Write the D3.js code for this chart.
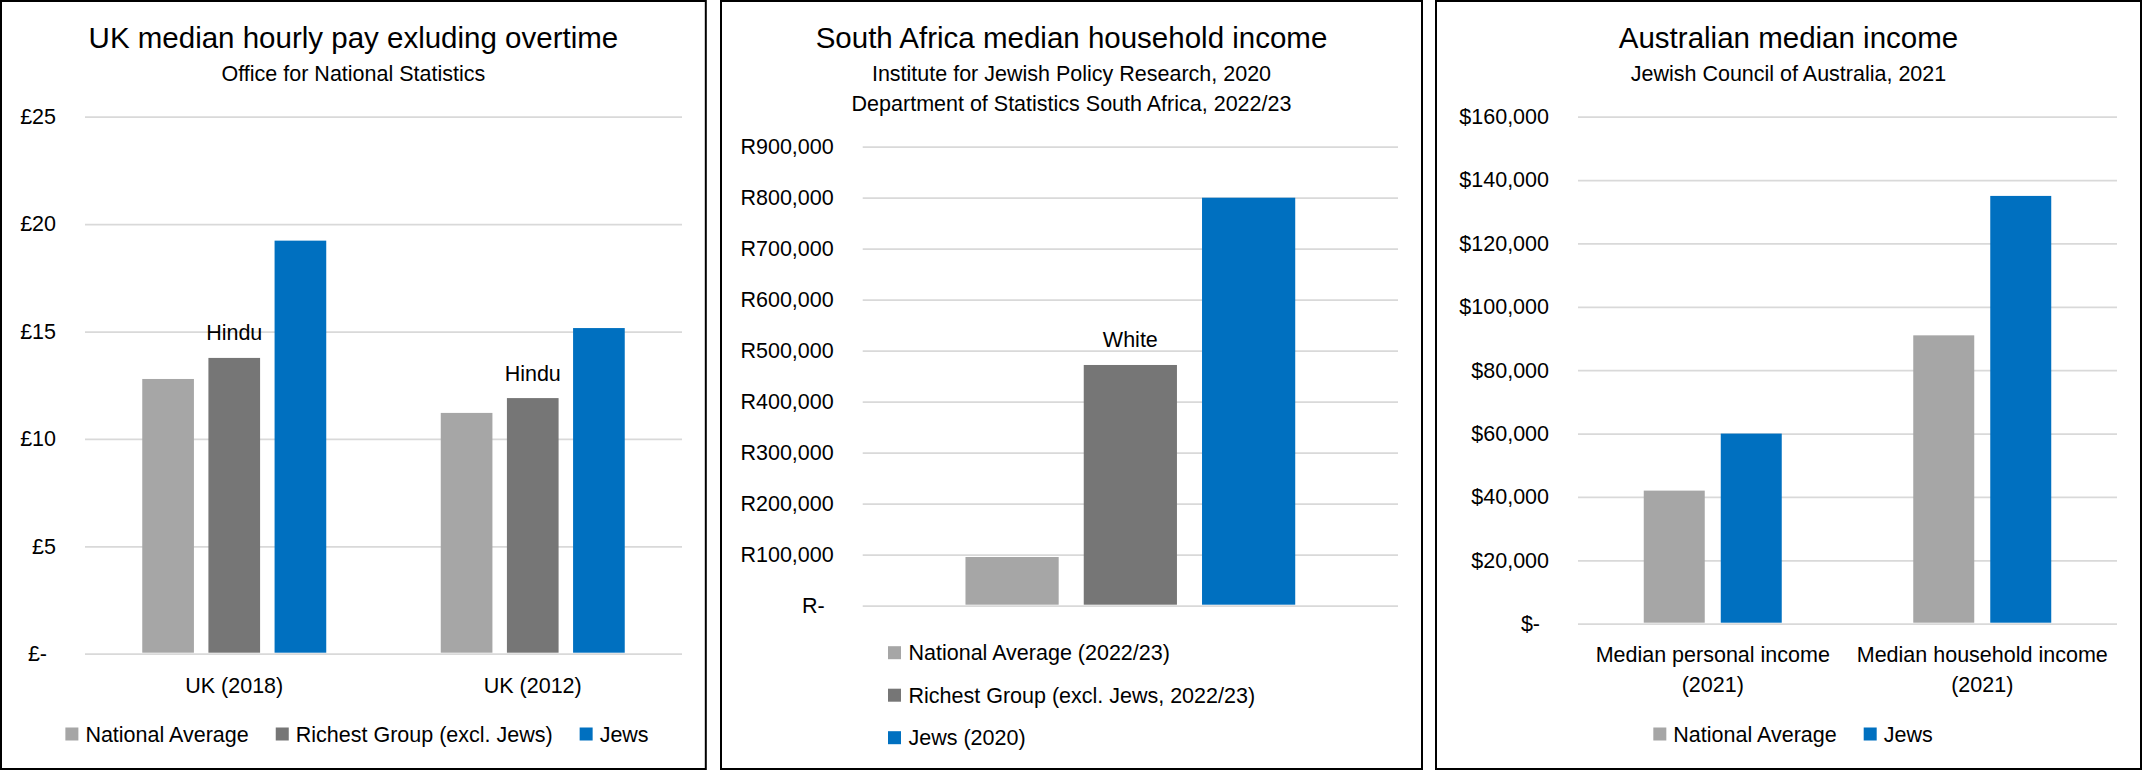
<!DOCTYPE html>
<html>
<head>
<meta charset="utf-8">
<script src="https://cdn.jsdelivr.net/npm/d3@7"></script>
<style>
body { margin: 0; background: #fff; }
svg { display: block; }
text { font-family: "Liberation Sans", Arial, sans-serif; fill: #000; }
</style>
</head>
<body>
<svg id="chart" width="2142" height="770"></svg>
<script>
// UK panel
var ukCategories = ["UK (2018)", "UK (2012)"];
var ukSeries = ["National Average", "Richest Group (excl. Jews)", "Jews"];
var ukNational = [12.79, 11.21];
var ukRichest = [13.77, 11.90];
var ukJews = [19.23, 15.16];
var ukRichestLabels = ["Hindu", "Hindu"];

// South Africa panel (single unlabeled category)
var saCategories = [""];
var saSeries = ["National Average (2022/23)", "Richest Group (excl. Jews, 2022/23)", "Jews (2020)"];
var saNational = [95500];
var saRichest = [472000];
var saJews = [800000];
var saRichestLabels = ["White"];

// Australia panel
var auCategories = ["Median personal income (2021)", "Median household income (2021)"];
var auSeries = ["National Average", "Jews"];
var auNational = [42000, 91000];
var auJews = [60000, 135000];

var LIGHT = "#a6a6a6", DARK = "#767676", BLUE = "#0070c0";
var GRID = "#d9d9d9";
var FONT = "21.5px";

function main() {
    var svg = d3.select("#chart");

    drawPanel(svg, {
        box: [1, 705.8],
        title: "UK median hourly pay exluding overtime",
        subtitles: ["Office for National Statistics"],
        plot: { left: 85, right: 682, top: 116.7, bottom: 653.7 },
        yMax: 25, yTicks: 5,
        format: function(d) { return d === 0 ? "£-" : "£" + d; },
        categories: ukCategories,
        series: ukSeries,
        values: [ukNational, ukRichest, ukJews],
        colors: [LIGHT, DARK, BLUE],
        labels: [null, ukRichestLabels, null],
        groupPad: 0.3836, barPad: 0.219,
        catPad: 24,
        legend: { type: "row", center: 357, y: 734 }
    });

    var money = d3.format(",");
    drawPanel(svg, {
        box: [721, 1422],
        title: "South Africa median household income",
        subtitles: ["Institute for Jewish Policy Research, 2020",
                    "Department of Statistics South Africa, 2022/23"],
        plot: { left: 862.7, right: 1398, top: 146.7, bottom: 605.7 },
        yMax: 900000, yTicks: 9,
        format: function(d) { return d === 0 ? "R-" : "R" + money(d); },
        categories: saCategories,
        series: saSeries,
        values: [saNational, saRichest, saJews],
        colors: [LIGHT, DARK, BLUE],
        labels: [null, saRichestLabels, null],
        groupPad: 0.384, barPad: 0.212,
        catPad: null,
        legend: { type: "column", x: 888, y: 652.7, step: 42.5 }
    });

    drawPanel(svg, {
        box: [1436, 2141],
        title: "Australian median income",
        subtitles: ["Jewish Council of Australia, 2021"],
        plot: { left: 1578, right: 2117, top: 116.7, bottom: 623.7 },
        yMax: 160000, yTicks: 8,
        format: function(d) { return d === 0 ? "$-" : "$" + money(d); },
        categories: auCategories,
        series: auSeries,
        values: [auNational, auJews],
        colors: [LIGHT, BLUE],
        labels: [null, null],
        groupPad: 0.488, barPad: 0.208,
        catPad: 22.7,
        legend: { type: "row", center: 1793, y: 734 }
    });
}

function drawPanel(svg, cfg) {
    var p = svg.append("g").attr("class", "panel");
    var plot = cfg.plot;

    p.append("rect")
        .attr("x", cfg.box[0])
        .attr("y", 1)
        .attr("width", cfg.box[1] - cfg.box[0])
        .attr("height", 768)
        .attr("fill", "none")
        .attr("stroke", "#000")
        .attr("stroke-width", 2);

    var cx = (cfg.box[0] + cfg.box[1]) / 2;
    p.append("text")
        .attr("x", cx)
        .attr("y", 47.5)
        .attr("text-anchor", "middle")
        .style("font-size", "29.5px")
        .text(cfg.title);
    cfg.subtitles.forEach(function(s, i) {
        p.append("text")
            .attr("x", cx)
            .attr("y", 80.5 + 30.5 * i)
            .attr("text-anchor", "middle")
            .style("font-size", FONT)
            .text(s);
    });

    var y = d3.scaleLinear()
        .domain([0, cfg.yMax])
        .range([plot.bottom, plot.top]);
    var x0 = d3.scaleBand()
        .domain(cfg.categories)
        .range([plot.left, plot.right])
        .paddingInner(cfg.groupPad)
        .paddingOuter(cfg.groupPad / 2);
    var x1 = d3.scaleBand()
        .domain(cfg.series)
        .range([0, x0.bandwidth()])
        .paddingInner(cfg.barPad);

    // gridlines + value labels
    var yAxis = p.append("g")
        .attr("class", "axis axis--y")
        .attr("transform", "translate(" + plot.left + ",0)")
        .call(d3.axisLeft(y)
            .ticks(cfg.yTicks)
            .tickSize(-(plot.right - plot.left))
            .tickPadding(29)
            .tickFormat(cfg.format));
    yAxis.select(".domain").remove();
    yAxis.selectAll(".tick line")
        .attr("stroke", GRID)
        .attr("stroke-width", 1.75);
    yAxis.selectAll(".tick text")
        .style("font-size", FONT);
    // accounting format pads the zero label
    yAxis.selectAll(".tick")
        .filter(function(d) { return d === 0; })
        .select("text")
        .attr("dx", "-9px");

    var rows = cfg.categories.map(function(c, i) {
        return {
            category: c,
            bars: cfg.series.map(function(s, j) {
                return {
                    series: s,
                    value: cfg.values[j][i],
                    color: cfg.colors[j],
                    label: cfg.labels[j] ? cfg.labels[j][i] : null
                };
            })
        };
    });

    var group = p.selectAll(".group")
        .data(rows)
        .enter().append("g")
        .attr("class", "group")
        .attr("transform", function(d) { return "translate(" + x0(d.category) + ",0)"; });

    group.selectAll("rect")
        .data(function(d) { return d.bars; })
        .enter().append("rect")
        .attr("x", function(d) { return x1(d.series); })
        .attr("y", function(d) { return y(d.value); })
        .attr("width", x1.bandwidth())
        .attr("height", function(d) { return y(0) - y(d.value) - 1; })
        .attr("fill", function(d) { return d.color; });

    group.selectAll(".bar-label")
        .data(function(d) { return d.bars.filter(function(b) { return b.label; }); })
        .enter().append("text")
        .attr("class", "bar-label")
        .attr("x", function(d) { return x1(d.series) + x1.bandwidth() / 2; })
        .attr("y", function(d) { return y(d.value) - 17.5; })
        .attr("text-anchor", "middle")
        .style("font-size", FONT)
        .text(function(d) { return d.label; });

    if (cfg.catPad !== null) {
        var xAxis = p.append("g")
            .attr("class", "axis axis--x")
            .attr("transform", "translate(0," + y(0) + ")")
            .call(d3.axisBottom(x0).tickSize(0).tickPadding(cfg.catPad));
        xAxis.select(".domain").remove();
        xAxis.selectAll(".tick text")
            .style("font-size", FONT)
            .each(function(d) {
                var parts = d.split(" (");
                if (parts.length < 2 || d.indexOf("UK") === 0) return;
                var t = d3.select(this).text(null).attr("dy", null);
                t.append("tspan").attr("x", 0).attr("dy", "0.71em").text(parts[0]);
                t.append("tspan").attr("x", 0).attr("dy", "1.43em").text("(" + parts[1]);
            });
    }

    if (cfg.legend.type === "row") {
        drawLegendRow(p, cfg.series, cfg.colors, cfg.legend);
    } else {
        drawLegendColumn(p, cfg.series, cfg.colors, cfg.legend);
    }
}

function drawLegendRow(p, series, colors, opt) {
    var g = p.append("g").attr("class", "legend");
    var x = 0;
    series.forEach(function(s, i) {
        g.append("rect")
            .attr("x", x)
            .attr("y", opt.y - 6.5)
            .attr("width", 13)
            .attr("height", 13)
            .attr("fill", colors[i]);
        var t = g.append("text")
            .attr("x", x + 20)
            .attr("y", opt.y)
            .attr("dy", "0.35em")
            .style("font-size", FONT)
            .text(s);
        x += 20 + t.node().getComputedTextLength() + 27;
    });
    x -= 27;
    g.attr("transform", "translate(" + (opt.center - x / 2) + ",0)");
}

function drawLegendColumn(p, series, colors, opt) {
    var g = p.append("g").attr("class", "legend");
    series.forEach(function(s, i) {
        var cy = opt.y + opt.step * i;
        g.append("rect")
            .attr("x", opt.x)
            .attr("y", cy - 6.5)
            .attr("width", 13)
            .attr("height", 13)
            .attr("fill", colors[i]);
        g.append("text")
            .attr("x", opt.x + 20.5)
            .attr("y", cy)
            .attr("dy", "0.35em")
            .style("font-size", FONT)
            .text(s);
    });
}

main();
</script>
</body>
</html>
